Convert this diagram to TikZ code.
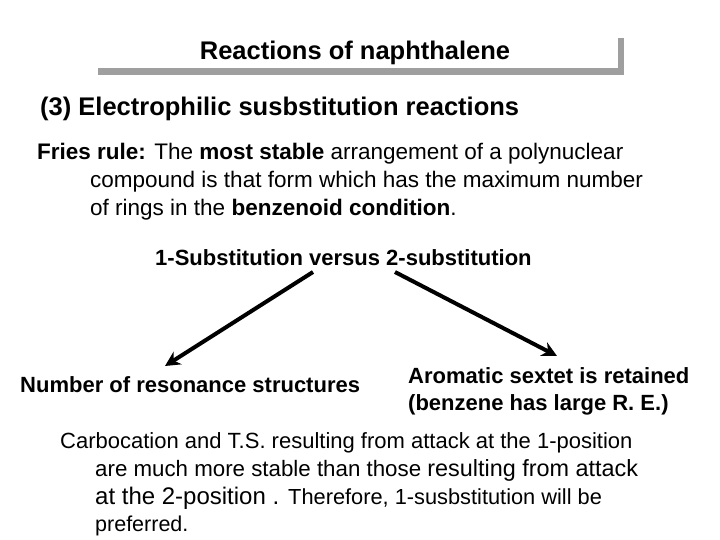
\documentclass[tikz,border=0pt]{standalone}
\usepackage{fontspec}
\usetikzlibrary{arrows.meta}
\setmainfont{Liberation Sans}
\begin{document}
\begin{tikzpicture}[x=1pt,y=-1pt,
  t/.style={anchor=base west,inner sep=0pt,font=\fontsize{22.5}{26}\selectfont},
  b/.style={t,font=\fontsize{22}{26}\selectfont\bfseries},
  arr/.style={line width=4pt,-{Stealth[length=15pt,width=15pt]}}]
\useasboundingbox (0,0) rectangle (720,540);
\fill[gray!75] (98,68) rectangle (624,75);
\fill[gray!75] (618,38) rectangle (624,75);
\node[b,anchor=base,font=\fontsize{25.5}{28}\selectfont\bfseries] (title) at (355,60) {Reactions of naphthalene};
\node[b,font=\fontsize{25.5}{28}\selectfont\bfseries] (h) at (40,116) {(3) Electrophilic susbstitution reactions};
\node[t] (f1) at (37,160) {\textbf{Fries rule:} The \textbf{most stable} arrangement of a polynuclear};
\node[t] (f2) at (90,188) {compound is that form which has the maximum number};
\node[t] (f3) at (90,215) {of rings in the \textbf{benzenoid condition}.};
\node[b] (s) at (155,265) {1-Substitution versus 2-substitution};
\coordinate (a1) at (313,272);
\coordinate (a2) at (165,366);
\coordinate (b1) at (395,272);
\coordinate (b2) at (557,356);
\draw[arr] (a1) -- (a2);
\draw[arr] (b1) -- (b2);
\node[b] (n) at (20,392) {Number of resonance structures};
\node[b] (r1) at (408,383) {Aromatic sextet is retained};
\node[b] (r2) at (408,410) {(benzene has large R. E.)};
\node[t,font=\fontsize{22}{26}\selectfont] (c1) at (60,448) {Carbocation and T.S. resulting from attack at the 1-position};
\node[t,font=\fontsize{22.3}{26}\selectfont] (c2) at (95,476) {are much more stable than those \fontsize{23.4}{26}\selectfont resulting from attack};
\node[t] (c3) at (95,504) {\fontsize{24}{26}\selectfont at the 2-position . \fontsize{21.8}{26}\selectfont Therefore, 1-susbstitution will be};
\node[t,font=\fontsize{21.5}{26}\selectfont] (c4) at (95,531) {preferred.};
\end{tikzpicture}
\end{document}
